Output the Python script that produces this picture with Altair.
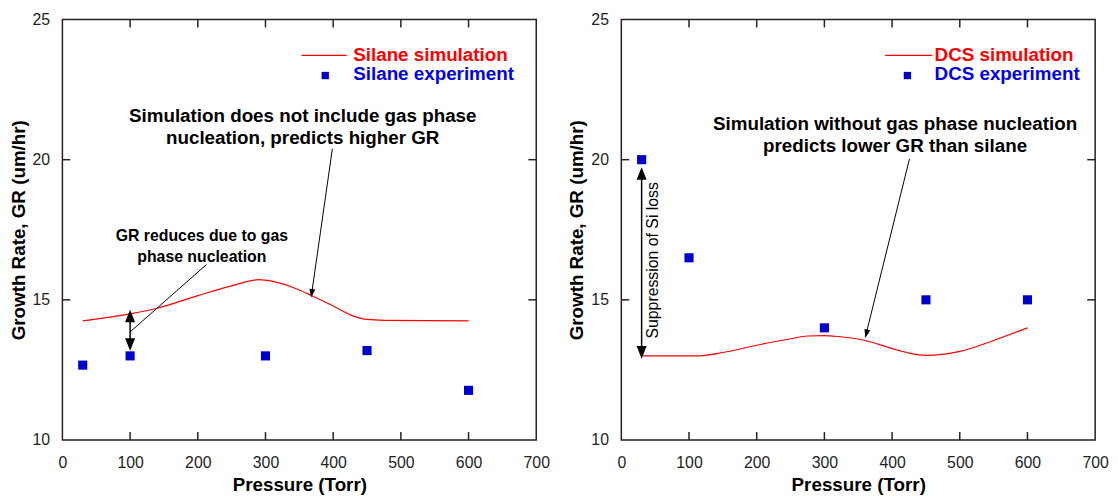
import altair as alt
import pandas as pd

# ---------------- data ----------------
exp_pressure = [30, 100, 300, 450, 600]
silane_exp_gr = [12.67, 13.0, 13.0, 13.19, 11.77]
dcs_exp_gr = [20.0, 16.5, 14.0, 15.0, 15.0]

silane_sim_p = [30, 100, 140, 200, 250, 290, 300, 340, 370, 400, 430, 450, 475, 600]
silane_sim_gr = [14.25, 14.5, 14.7, 15.15, 15.5, 15.72, 15.7, 15.45, 15.13, 14.78, 14.42, 14.3, 14.27, 14.25]

dcs_sim_p = [30, 110, 150, 200, 250, 275, 300, 315, 360, 400, 425, 450, 500, 550, 600]
dcs_sim_gr = [13.0, 13.0, 13.12, 13.38, 13.61, 13.71, 13.72, 13.7, 13.55, 13.26, 13.1, 13.02, 13.16, 13.55, 14.0]

x_ticks = [0, 100, 200, 300, 400, 500, 600, 700]
y_ticks = [10, 15, 20, 25]

# ---------------- style ----------------
W, H = 479, 425
FONT = "Liberation Sans"
FRAME = "#222222"
RED = "#ff0000"
BLUE = "#0000cc"
TICK = 8

xscale = alt.Scale(domain=[0, 700], nice=False, zero=False)
yscale = alt.Scale(domain=[10, 25], nice=False, zero=False)

x_axis = alt.Axis(values=x_ticks, labelFlush=False, title="Pressure (Torr)")
y_axis = alt.Axis(values=y_ticks, title="Growth Rate, GR (um/hr)")

ONE = alt.Data(values=[{}])

HEAD_BIG = "M0,0L-0.4,1L0.4,1Z"
HEAD_SMALL = "M0,0L-0.35,1L0.35,1Z"


def ticks_layers():
    xt = pd.DataFrame({"t": x_ticks[1:-1]})
    yt = pd.DataFrame({"t": y_ticks[1:-1]})
    rule = dict(color=FRAME, strokeWidth=1.5)
    bottom = alt.Chart(xt).mark_rule(**rule).encode(
        x=alt.X("t:Q", scale=xscale, axis=x_axis), y=alt.value(H), y2=alt.value(H - TICK))
    top = alt.Chart(xt).mark_rule(**rule).encode(
        x=alt.X("t:Q", scale=xscale, axis=x_axis), y=alt.value(0), y2=alt.value(TICK))
    left = alt.Chart(yt).mark_rule(**rule).encode(
        y=alt.Y("t:Q", scale=yscale, axis=y_axis), x=alt.value(0), x2=alt.value(TICK))
    right = alt.Chart(yt).mark_rule(**rule).encode(
        y=alt.Y("t:Q", scale=yscale, axis=y_axis), x=alt.value(W - TICK), x2=alt.value(W))
    return [bottom, top, left, right]


def seg(x1, y1, x2, y2, width=1.0):
    return alt.Chart(ONE).mark_rule(color="black", strokeWidth=width).encode(
        x=alt.datum(x1, scale=xscale, axis=x_axis), y=alt.datum(y1, scale=yscale, axis=y_axis),
        x2=alt.datum(x2), y2=alt.datum(y2))


def head(x, y, angle, shape=HEAD_SMALL, size=300):
    return alt.Chart(ONE).mark_point(shape=shape, filled=True, size=size, angle=angle,
                                     color="black", opacity=1, strokeWidth=0).encode(
        x=alt.datum(x, scale=xscale, axis=x_axis), y=alt.datum(y, scale=yscale, axis=y_axis))


def label(x, y, text, size=19, weight="bold", angle=0, lh=22):
    # y is the centre of the first line
    return alt.Chart(ONE).mark_text(text=text, lineBreak="\n", font=FONT, fontSize=size,
                                    fontWeight=weight, color="black", align="center",
                                    baseline="middle", angle=angle, lineHeight=lh).encode(
        x=alt.datum(x, scale=xscale, axis=x_axis), y=alt.datum(y, scale=yscale, axis=y_axis))


def legend(line_x1, line_x2, sq_x, text_x, sim_text, exp_text):
    line = alt.Chart(ONE).mark_rule(color=RED, strokeWidth=1.2).encode(
        x=alt.value(line_x1), x2=alt.value(line_x2), y=alt.value(36.3))
    sq = alt.Chart(ONE).mark_square(color=BLUE, size=55, opacity=1).encode(
        x=alt.value(sq_x), y=alt.value(56.6))
    t1 = alt.Chart(ONE).mark_text(text=sim_text, font=FONT, fontSize=19, fontWeight="bold",
                                  color=RED, align="left", baseline="middle").encode(
        x=alt.value(text_x), y=alt.value(35.5))
    t2 = alt.Chart(ONE).mark_text(text=exp_text, font=FONT, fontSize=19, fontWeight="bold",
                                  color="#0000ee", align="left", baseline="middle").encode(
        x=alt.value(text_x), y=alt.value(55.3))
    return [line, sq, t1, t2]


def panel(sim_p, sim_gr, exp_gr, extra):
    sim_df = pd.DataFrame({"p": sim_p, "gr": sim_gr})
    exp_df = pd.DataFrame({"p": exp_pressure, "gr": exp_gr})
    sim = alt.Chart(sim_df).mark_line(color=RED, strokeWidth=1.2, interpolate="monotone").encode(
        x=alt.X("p:Q", scale=xscale, axis=x_axis),
        y=alt.Y("gr:Q", scale=yscale, axis=y_axis))
    exp = alt.Chart(exp_df).mark_square(color=BLUE, size=85, opacity=1).encode(
        x=alt.X("p:Q", scale=xscale, axis=x_axis),
        y=alt.Y("gr:Q", scale=yscale, axis=y_axis))
    return alt.layer(sim, *ticks_layers(), *extra, exp).properties(width=W, height=H)


left_extra = legend(241.7, 287.3, 265.7, 294, "Silane simulation", "Silane experiment") + [
    label(355, 21.56, "Simulation does not include gas phase\nnucleation, predicts higher GR"),
    seg(398.8, 20.39, 367.8, 15.15),
    head(367.5, 15.08, 188.1),
    label(206, 17.29, "GR reduces due to gas\nphase nucleation", size=16, weight="bold", lh=21.5),
    seg(212.9, 16.26, 99.8, 13.85),
    seg(100, 14.5, 100, 13.35, width=1.5),
    head(100, 14.65, 0, HEAD_BIG, 645),
    head(100, 13.18, 180, HEAD_BIG, 645),
]

right_extra = legend(266.7, 314.2, 289.2, 316.7, "DCS simulation", "DCS experiment") + [
    label(404.4, 21.27, "Simulation without gas phase nucleation\npredicts lower GR than silane"),
    seg(425.7, 20.03, 360.8, 13.7),
    head(360.5, 13.64, 193.8),
    seg(30, 19.6, 30, 13.05, width=1.5),
    head(30, 19.73, 0, HEAD_BIG, 645),
    head(30, 12.9, 180, HEAD_BIG, 645),
    label(46.5, 16.41, "Suppression of Si loss", size=16, weight="normal", angle=270),
]

left = panel(silane_sim_p, silane_sim_gr, silane_exp_gr, left_extra)
right = panel(dcs_sim_p, dcs_sim_gr, dcs_exp_gr, right_extra)

chart = alt.hconcat(left, right, spacing=16).properties(
    padding={"left": 0, "top": 0, "right": 0, "bottom": 0}
).configure_view(stroke=FRAME, strokeWidth=1.5).configure_axis(
    grid=False, domain=False, ticks=True, tickSize=0,
    labelFont=FONT, labelFontSize=16, labelColor="#222222", labelPadding=13,
    titleFont=FONT, titleFontSize=19, titleFontWeight="bold", titleColor="black",
    titlePadding=4,
).configure_axisX(labelPadding=15, titlePadding=5)

chart.save("out.html", embed_options={"renderer": "svg", "actions": False})
